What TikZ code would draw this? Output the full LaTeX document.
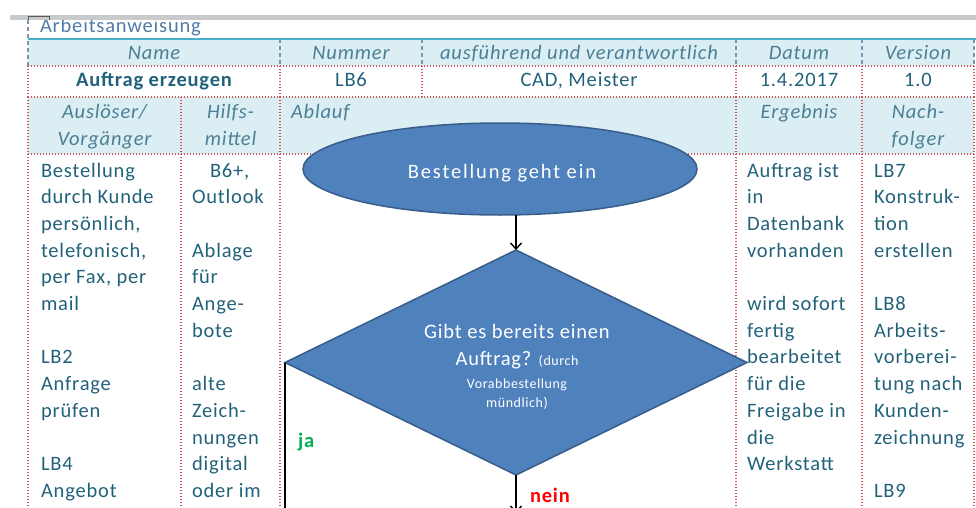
\documentclass[tikz,border=0pt]{standalone}
\usepackage{fontspec}
\setmainfont{Carlito}[LetterSpace=4]
\usetikzlibrary{shapes.geometric,arrows.meta}

\definecolor{hdrfill}{HTML}{DAEEF3}
\definecolor{bodytxt}{HTML}{21627A}
\definecolor{hdrtxt}{HTML}{4B7F95}
\definecolor{titletxt}{HTML}{4F7BA6}
\definecolor{gridred}{HTML}{D0504D}
\definecolor{gridblue}{HTML}{7D93B2}
\definecolor{ruleteal}{HTML}{4BACC6}
\definecolor{bandgray}{HTML}{C9CACB}
\definecolor{shapefill}{HTML}{4F81BD}
\definecolor{shapeedge}{HTML}{385D8A}
\definecolor{jagreen}{HTML}{00B050}

\tikzset{
  txt/.style={inner sep=0pt, outer sep=0pt, text=bodytxt,
    font=\fontsize{20.5}{26.7}\selectfont},
  hd/.style={txt, text=hdrtxt, anchor=base,
    font=\fontsize{20.5}{26.7}\selectfont\itshape},
  cell/.style={txt, anchor=base},
  onshape/.style={txt, text=white, anchor=base},
  smallshape/.style={onshape, font=\fontsize{14}{17}\selectfont},
  reddot/.style={gridred, line width=1.3pt, dash pattern=on 1.3pt off 1.7pt},
  bluedash/.style={gridblue, line width=1.2pt, dash pattern=on 4pt off 3pt},
  conn/.style={black, line width=1.6pt},
  tip/.style={-{Straight Barb[length=6pt,width=11pt,line width=1.4pt]}},
  shapestyle/.style={fill=shapefill, draw=shapeedge, line width=1.5pt,
    inner sep=0pt, outer sep=0pt},
}

% one text line per node, stacked at a fixed line pitch
\newcommand\colstack[4]{%
  \foreach \rowtext [count=\k from 0] in {#4}{%
    \node[txt, anchor=base west] (#3\k) at (#1,{#2+26.7*\k}) {\rowtext};}}

\begin{document}
\begin{tikzpicture}[x=1pt, y=-1pt]
\useasboundingbox (0,0) rectangle (976,508);
\clip (0,0) rectangle (976,508);

% title line above the table
\node[txt, text=titletxt, anchor=base west] (title) at (40,33) {Arbeitsanweisung};
\fill[bandgray] (10,15.5) rectangle (976,20.5);
\draw[gray!70!black, line width=0.8pt] (28,20.5) -- (28,16) -- (49,16) -- (49,20.5);

% header fills
\fill[hdrfill] (28,39) rectangle (974,66);
\fill[hdrfill] (28,97) rectangle (974,154);

% grid
\draw[bluedash] (28,20.5) -- (28,66);
\foreach \xx in {280,422,736,862,974} \draw[bluedash] (\xx,39) -- (\xx,66);
\foreach \yy in {66,97,154} \draw[reddot] (28,\yy) -- (976,\yy);
\foreach \xx in {28,280,422,736,862,974} \draw[reddot] (\xx,66) -- (\xx,97);
\foreach \xx in {28,181,280,736,862,974} \draw[reddot] (\xx,97) -- (\xx,520);
\draw[ruleteal, line width=2pt] (28,39) -- (976,39);

% header row 1
\node[hd] (hName) at (154,60) {Name};
\node[hd] (hNum) at (351,60) {Nummer};
\node[hd] (hResp) at (579,60) {ausführend und verantwortlich};
\node[hd] (hDate) at (799,60) {Datum};
\node[hd] (hVer) at (918,60) {Version};

% header row 2
\node[cell, font=\fontsize{20.5}{26.7}\selectfont\bfseries] (vName) at (154,87) {Auftrag erzeugen};
\node[cell] (vNum) at (351,87) {LB6};
\node[cell] (vResp) at (579,87) {CAD, Meister};
\node[cell] (vDate) at (799,87) {1.4.2017};
\node[cell] (vVer) at (918,87) {1.0};

% header row 3
\node[hd] (hTrig1) at (104.5,118) {Auslöser/};
\node[hd] (hTrig2) at (104.5,145) {Vorgänger};
\node[hd] (hAid1) at (230.5,118) {Hilfs-};
\node[hd] (hAid2) at (230.5,145) {mittel};
\node[hd, anchor=base west] (hFlow) at (291,118) {Ablauf};
\node[hd] (hRes) at (799,118) {Ergebnis};
\node[hd] (hNext1) at (918,118) {Nach-};
\node[hd] (hNext2) at (918,145) {folger};

% flow chart
\node[ellipse, shapestyle, minimum width=394pt, minimum height=92pt] (start) at (500,169) {};
\node[onshape, font=\fontsize{20.5}{26.7}\selectfont\addfontfeatures{LetterSpace=9}] (startText) at (502,178) {Bestellung geht ein};

\node[diamond, shapestyle, aspect=2.05, minimum width=462pt, minimum height=225pt] (q) at (516,362.5) {};
\node[onshape] (q1) at (517,338) {Gibt es bereits einen};
\node[onshape] (q2) at (517,365) {Auftrag? {\fontsize{14}{17}\selectfont(durch}};
\node[smallshape] (q3) at (517,388) {Vorabbestellung};
\node[smallshape] (q4) at (517,407) {mündlich)};

\coordinate (jaEnd) at (285,520);
\coordinate (neinEnd) at (516,513);
\draw[conn, tip] (start.south -| q.north) -- (q.north);
\draw[conn] (q.west) -- (q.west |- jaEnd);
\draw[conn, tip] (q.south) -- (q.south |- neinEnd);

\node[txt, anchor=base west, text=jagreen, font=\fontsize{20.5}{26.7}\selectfont\bfseries] (ja) at (298,447) {ja};
\node[txt, anchor=base west, text=red, font=\fontsize{20.5}{26.7}\selectfont\bfseries] (nein) at (530,502) {nein};

% body columns
\colstack{41}{177}{trig}{Bestellung, durch Kunde, {persönlich,}, {telefonisch,}, {per Fax, per}, mail, {}, LB2, Anfrage, prüfen, {}, LB4, Angebot}
\colstack{192}{177}{aid}{{\hspace*{18pt}B6+,}, Outlook, {}, Ablage, für, Ange-, bote, {}, alte, Zeich-, nungen, digital, oder im}
\colstack{747}{177}{res}{Auftrag ist, in, Datenbank, vorhanden, {}, wird sofort, fertig, bearbeitet, für die, Freigabe in, die, Werkstatt}
\colstack{874}{177}{next}{LB7, Konstruk-, tion, erstellen, {}, LB8, Arbeits-, vorberei-, tung nach, Kunden-, zeichnung, {}, LB9}
\end{tikzpicture}
\end{document}
